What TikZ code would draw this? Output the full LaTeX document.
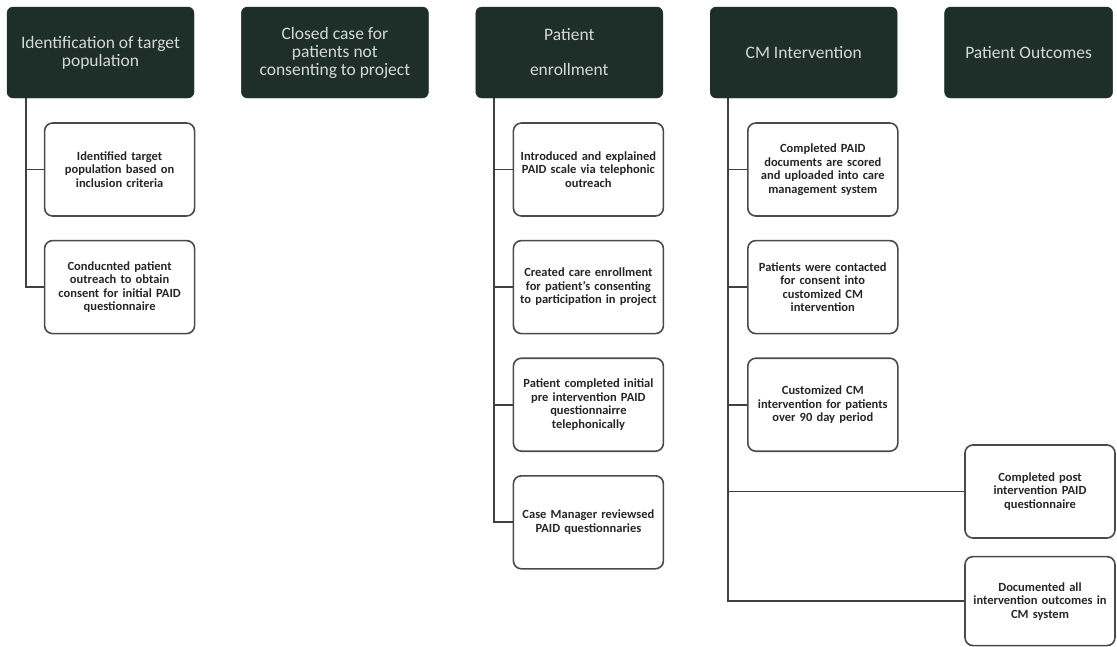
\documentclass[tikz,border=0pt]{standalone}
\usepackage{fontspec}
\setmainfont{Carlito}
\usetikzlibrary{positioning}
\definecolor{hdfill}{HTML}{1E2E29}
\definecolor{hdtext}{HTML}{D4DAD6}
\definecolor{boxline}{HTML}{4A4A4A}
\tikzset{
    % dark phase boxes along the top
    phase/.style={
           rectangle,
           rounded corners=6pt,
           fill=hdfill,
           draw=hdfill,
           text=hdtext,
           minimum width=187pt,
           minimum height=91pt,
           align=center,
           inner sep=2pt,
           font=\fontsize{17.5}{18}\selectfont},
    % white step boxes
    task/.style={
           rectangle,
           rounded corners=8pt,
           draw=boxline,
           line width=1.6pt,
           fill=white,
           minimum width=150pt,
           minimum height=93pt,
           text width=146pt,
           inner sep=2pt,
           align=center,
           text=black!85,
           font=\bfseries\fontsize{12.5}{13.5}\selectfont},
    % tree lines
    link/.style={
           draw=black!75,
           line width=1.8pt}
}
\begin{document}
\begin{tikzpicture}[x=1pt, y=-1pt, node distance=47pt]
  \useasboundingbox (0,0) rectangle (1117,646);
  % phases
  \node[phase] (ident) at (100.5,52.5) {Identification of target\\population};
  \node[phase,right=of ident] (closed) {Closed case for\\patients not\\consenting to project};
  \node[phase,right=of closed] (enrol) {Patient\\[17pt]enrollment};
  \node[phase,right=of enrol] (cmint) {CM Intervention};
  \node[phase,right=of cmint,minimum width=168pt] (outcome) {Patient Outcomes};
  % identification steps
  \node[task,below right=24pt and 37pt of ident.south west] (idA) {Identified target\\population based on\\inclusion criteria};
  \node[task,below=23pt of idA] (idB) {Conducnted patient\\outreach to obtain\\consent for initial PAID\\questionnaire};
  % enrollment steps
  \node[task,below right=24pt and 37pt of enrol.south west] (enA) {Introduced and explained\\PAID scale via telephonic\\outreach};
  \node[task,below=23pt of enA] (enB) {Created care enrollment\\for patient’s consenting\\to participation in project};
  \node[task,below=23pt of enB] (enC) {Patient completed initial\\pre intervention PAID\\questionnairre\\telephonically};
  \node[task,below=23pt of enC] (enD) {Case Manager reviewsed\\PAID questionnaries};
  % intervention steps
  \node[task,below right=24pt and 37pt of cmint.south west] (cmA) {Completed PAID\\documents are scored\\and uploaded into care\\management system};
  \node[task,below=23pt of cmA] (cmB) {Patients were contacted\\for consent into\\customized CM\\intervention};
  \node[task,below=23pt of cmB] (cmC) {Customized CM\\intervention for patients\\over 90 day period};
  % outcome steps
  \node[task] (ocA) at (1040,491.5) {Completed post\\intervention PAID\\questionnaire};
  \node[task,below=17pt of ocA,minimum height=89pt] (ocB) {Documented all\\intervention outcomes in\\CM system};
  % trunks
  \coordinate (idT) at ([xshift=19pt]ident.south west);
  \coordinate (enT) at ([xshift=18pt]enrol.south west);
  \coordinate (cmT) at ([xshift=18pt]cmint.south west);
  \draw[link] (idT) |- (idB.west);
  \draw[link] (idT |- idA.west) -- (idA.west);
  \draw[link] (enT) |- (enD.west);
  \foreach \s in {enA,enB,enC}
    \draw[link] (enT |- \s.west) -- (\s.west);
  \draw[link] (cmT) |- (ocB.west);
  \foreach \s in {cmA,cmB,cmC,ocA}
    \draw[link] (cmT |- \s.west) -- (\s.west);
\end{tikzpicture}
\end{document}
